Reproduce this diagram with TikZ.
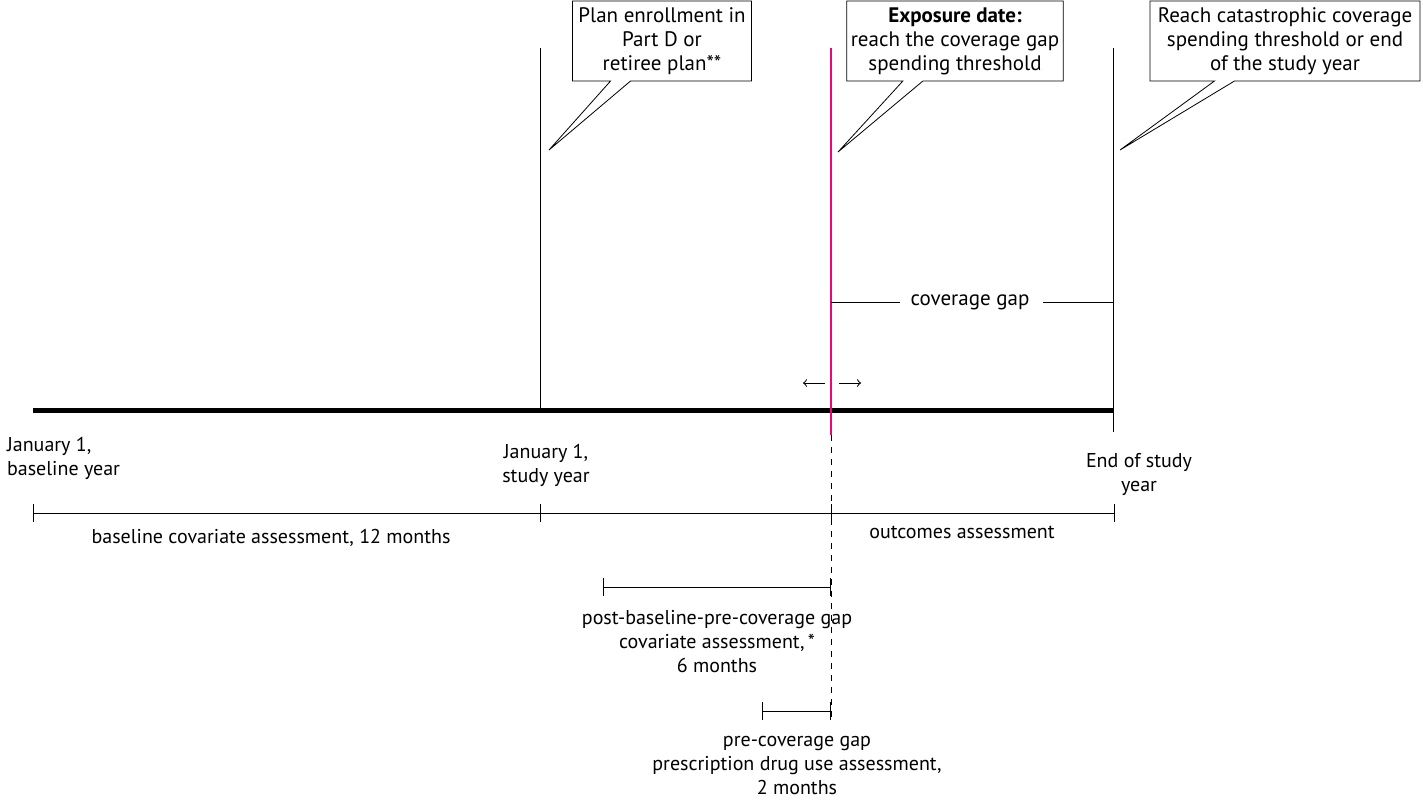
\documentclass[tikz,border=0pt]{standalone}
\usepackage{fontspec}
\setmainfont{PT Sans}
\usepackage{tikz}
\usetikzlibrary{arrows,positioning,shapes,calc}

\tikzset{
  callbox/.style = {rectangle callout, draw, fill = white, align = center, inner sep = 2pt,
    minimum width = 89.5pt, minimum height = 40pt, callout pointer width = 10pt},
  lbl/.style = {align = center, font = \fontsize{10}{12}\selectfont},
  tick/.style = {line width = .5pt}
}

\begin{document}
\begin{tikzpicture}[x = .5pt, y = -.5pt, font = \fontsize{10.5}{12}\selectfont]
  \useasboundingbox (0,0) rectangle (1423,800);
  % timeline points
  \coordinate (t0) at (33,410);
  \coordinate (t1) at (540,410);
  \coordinate (t2) at (831,410);
  \coordinate (t3) at (1113,410);
  \draw[line width = 2.5pt] (t0) -- (t3);
  \coordinate (v1) at (540,48);
  \coordinate (v2) at (831,48);
  \coordinate (v3) at (1113,48);
  \coordinate (v2b) at (831,435);
  \coordinate (v2e) at (831,720);
  \coordinate (v3b) at (1113,432);
  \draw[tick] (v1) -- (t1);
  \draw[line width = .8pt, color = magenta!80!red] (v2) -- (v2b);
  \draw[tick, dashed] (v2b) -- (v2e);
  \draw[tick] (v3) -- (v3b);
  % callouts
  \node[callbox, callout absolute pointer = {(549,150)}] (c1) at (662,41) {Plan enrollment in\\Part D or\\retiree plan**};
  \node[callbox, callout absolute pointer = {(838,152)}] (c2) at (955,41) {\textbf{Exposure date:}\\reach the coverage gap\\spending threshold};
  \node[callbox, minimum width = 135pt, callout absolute pointer = {(1120,150)}] (c3) at (1285,41) {Reach catastrophic coverage\\spending threshold or end\\of the study year};
  % coverage gap
  \node (gap) at (970,302) {coverage gap};
  \coordinate (g1) at (831,302);
  \coordinate (g2) at (1113,302);
  \draw[tick] (g1) -- (gap.west -| 900,0);
  \draw[tick] (gap.east -| 1043,0) -- (g2);
  % shift arrows
  \coordinate (al) at (825,383);
  \coordinate (ar) at (839,383);
  \draw[->, tick] (al) -- ++(-22,0);
  \draw[->, tick] (ar) -- ++(22,0);
  % date labels
  \node[lbl, anchor = north west, align = left] (d0) at (0,430) {January 1,\\baseline year};
  \node[lbl, anchor = north] (d1) at (546,437) {January 1,\\study year};
  \node[lbl, anchor = north] (d3) at (1139,446) {End of study\\year};
  % assessment windows
  \draw[tick] (33,513) -- (1114,513);
  \foreach \x in {33,540,831,1114} \draw[tick] (\x,504) -- (\x,522);
  \node[lbl] (base) at (271,538) {baseline covariate assessment, 12 months};
  \node[lbl] (out) at (962,532) {outcomes assessment};
  \draw[tick] (603,587) -- (830,587);
  \foreach \x in {603,830} \draw[tick] (\x,578) -- (\x,596);
  \node[lbl, anchor = north] (post) at (717,603) {post-baseline-pre-coverage gap\\covariate assessment,\,*\\6 months};
  \draw[tick] (762,711) -- (830,711);
  \foreach \x in {762,830} \draw[tick] (\x,702) -- (\x,720);
  \node[lbl, anchor = north] (pre) at (797,729) {pre-coverage gap\\prescription drug use assessment,\\2 months};
\end{tikzpicture}
\end{document}
